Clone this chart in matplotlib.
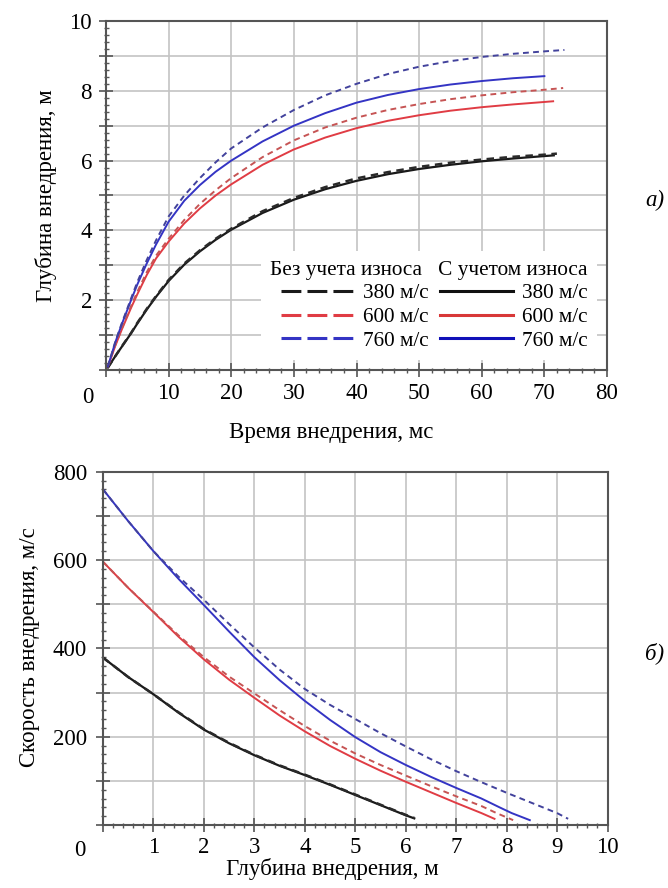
import matplotlib
matplotlib.use('Agg')
import matplotlib.pyplot as plt
from matplotlib.lines import Line2D
from matplotlib.ticker import MultipleLocator, FuncFormatter

plt.rcParams['font.family'] = ['Liberation Serif', 'DejaVu Serif']
plt.rcParams['font.size'] = 16.5

# --- (a) depth vs time ---------------------------------------------------
t_early = [0.3, 1.5, 2.5, 4, 5, 6.5, 8, 10, 12.5, 15, 17.5, 20, 25, 30, 35, 40, 45, 50, 55, 60, 65, 70]

t_380 = t_early + [71.5]
d_380_wear = [0.07, 0.4, 0.66, 1.05, 1.33, 1.73, 2.1, 2.55, 3.02, 3.4, 3.73, 4.02,
              4.5, 4.88, 5.18, 5.42, 5.61, 5.76, 5.88, 5.98, 6.06, 6.13, 6.15]
t_380_nw = t_early + [72]
d_380_nowear = [0.07, 0.4, 0.67, 1.06, 1.35, 1.75, 2.12, 2.58, 3.05, 3.43, 3.76, 4.05,
                4.55, 4.93, 5.24, 5.49, 5.67, 5.82, 5.94, 6.03, 6.11, 6.17, 6.2]

t_600 = t_early + [71.4]
d_600_wear = [0.1, 0.7, 1.15, 1.78, 2.17, 2.72, 3.2, 3.68, 4.2, 4.63, 5.0, 5.32,
              5.88, 6.32, 6.66, 6.93, 7.14, 7.3, 7.43, 7.53, 7.61, 7.68, 7.7]
t_600_nw = t_early + [73]
d_600_nowear = [0.1, 0.72, 1.18, 1.83, 2.24, 2.8, 3.28, 3.76, 4.3, 4.76, 5.15, 5.5,
                6.1, 6.58, 6.95, 7.23, 7.45, 7.62, 7.76, 7.87, 7.96, 8.03, 8.08]

t_760 = t_early
d_760_wear = [0.1, 0.8, 1.3, 2.0, 2.45, 3.05, 3.6, 4.25, 4.85, 5.3, 5.68, 6.0,
              6.55, 7.0, 7.36, 7.66, 7.88, 8.05, 8.18, 8.28, 8.36, 8.42]
t_760_nw = t_early + [73.2]
d_760_nowear = [0.1, 0.82, 1.33, 2.05, 2.52, 3.15, 3.72, 4.4, 5.0, 5.5, 5.95, 6.35,
                6.95, 7.45, 7.87, 8.2, 8.48, 8.69, 8.85, 8.97, 9.06, 9.13, 9.17]

# --- (б) velocity vs depth -----------------------------------------------
h_380 = [0, 0.5, 1, 1.5, 2, 2.5, 3, 3.5, 4, 4.5, 5, 5.5, 6, 6.17]
v_380_wear = [379, 335, 296, 254, 216, 185, 158, 134, 113, 91, 68, 45, 22, 15]
v_380_nowear = [379, 335, 296, 255, 217, 186, 159, 135, 114, 92, 69, 46, 23, 16]

h_600 = [0, 0.5, 1, 1.5, 2, 2.5, 3, 3.5, 4, 4.5, 5, 5.5, 6, 6.5, 7, 7.5, 7.76]
v_600_wear = [596, 537, 482, 426, 375, 329, 288, 248, 212, 179, 150, 123, 98, 74, 50, 27, 14]
h_600_nw = [0, 0.5, 1, 1.5, 2, 2.5, 3, 3.5, 4, 4.5, 5, 5.5, 6, 6.5, 7, 7.5, 7.8, 8.13]
v_600_nowear = [596, 537, 483, 429, 380, 336, 298, 260, 224, 191, 162, 136, 112, 88, 65, 43, 27, 11]

h_760 = [0, 0.5, 1, 1.5, 2, 2.5, 3, 3.5, 4, 4.5, 5, 5.5, 6, 6.5, 7, 7.5, 7.86, 8.1, 8.46]
v_760_wear = [760, 688, 620, 557, 498, 438, 380, 328, 281, 238, 199, 165, 136, 109, 84, 60, 40, 27, 11]
h_760_nw = [0, 0.5, 1, 1.5, 2, 2.5, 3, 3.5, 4, 4.5, 5, 5.5, 6, 6.5, 7, 7.5, 8, 8.5, 9, 9.22]
v_760_nowear = [760, 688, 620, 562, 510, 455, 402, 352, 308, 272, 240, 208, 178, 149, 122, 97, 73, 50, 27, 14]

speeds = ['380 м/с', '600 м/с', '760 м/с']

C_BLACK, C_BLACK_D = '#1a1a1a', '#2a2a2a'
C_RED, C_RED_D = '#e03c44', '#c65454'
C_BLUE, C_BLUE_D = '#3434c4', '#42429c'
DASH = (3, 2.2)
LW = 1.4

fig = plt.figure(figsize=(6.68, 8.88), dpi=100)
ax1 = fig.add_axes([106 / 668, 1 - 370 / 888, 501 / 668, 349 / 888])
ax2 = fig.add_axes([103 / 668, 1 - 825 / 888, 504.5 / 668, 353.3 / 888])


def style_axes(ax, ypad, xpad):
    ax.grid(True, which='major', color='#c4c4c4', lw=1.2, zorder=0)
    ax.set_axisbelow(True)
    for s in ax.spines.values():
        s.set_color('#555555')
        s.set_linewidth(1.5)
    ax.tick_params(which='major', direction='inout', length=10, width=1.2,
                   color='#555555', top=False, right=False)
    ax.tick_params(which='minor', direction='inout', length=3.6, width=1.0,
                   color='#555555', top=False, right=False)
    ax.tick_params(axis='y', which='major', pad=ypad)
    ax.tick_params(axis='x', which='major', pad=xpad)


# panel a
ax1.plot(t_380, d_380_wear, color=C_BLACK, lw=1.6)
ax1.plot(t_380_nw, d_380_nowear, color=C_BLACK_D, lw=1.8, dashes=DASH)
ax1.plot(t_600, d_600_wear, color=C_RED, lw=LW)
ax1.plot(t_600_nw, d_600_nowear, color=C_RED_D, lw=LW, dashes=DASH)
ax1.plot(t_760, d_760_wear, color=C_BLUE, lw=LW)
ax1.plot(t_760_nw, d_760_nowear, color=C_BLUE_D, lw=LW, dashes=DASH)

ax1.set_xlim(0, 80)
ax1.set_ylim(0, 10)
ax1.xaxis.set_major_locator(MultipleLocator(10))
ax1.xaxis.set_minor_locator(MultipleLocator(2))
ax1.yaxis.set_major_locator(MultipleLocator(1))
ax1.yaxis.set_minor_locator(MultipleLocator(0.2))
ax1.xaxis.set_major_formatter(FuncFormatter(lambda v, p: '' if v == 0 else '%d' % v))
ax1.yaxis.set_major_formatter(FuncFormatter(lambda v, p: '%d' % v if (v > 0 and round(v) % 2 == 0) else ''))
style_axes(ax1, 5, 4.5)
ax1.annotate('0', xy=(0, 0), xycoords='axes fraction', xytext=(-18, -33),
             textcoords='offset pixels', ha='center', va='baseline')

ax1.set_xlabel('Время внедрения, мс')
ax1.xaxis.set_label_coords(0.449, -0.148)
ax1.set_ylabel('Глубина внедрения, м')
ax1.yaxis.set_label_coords(-0.098, 0.5)

handles = [Line2D([], [], color=c, lw=2.2, dashes=(6.5, 2)) for c in (C_BLACK, C_RED, C_BLUE)]
handles += [Line2D([], [], color=c, lw=2.2) for c in ('#111111', '#d83838', '#1010b8')]
leg = ax1.legend(handles, speeds + speeds, ncol=2,
                 title='Без учета износа   С учетом износа',
                 loc='lower right', bbox_to_anchor=(1, 0), borderaxespad=0.45,
                 frameon=True, fancybox=False, edgecolor='none', facecolor='white',
                 framealpha=1, fontsize=15.3, title_fontsize=15.3,
                 handlelength=3.4, handletextpad=0.45, columnspacing=0.55,
                 labelspacing=0.18, borderpad=0.45, alignment='right')

fig.text(655 / 668, 1 - 200 / 888, 'а)', style='italic', ha='center', va='center')

# panel б
ax2.plot(h_380, v_380_wear, color=C_BLACK, lw=1.6)
ax2.plot(h_380, v_380_nowear, color=C_BLACK_D, lw=1.8, dashes=DASH)
ax2.plot(h_600, v_600_wear, color=C_RED, lw=LW)
ax2.plot(h_600_nw, v_600_nowear, color=C_RED_D, lw=LW, dashes=DASH)
ax2.plot(h_760, v_760_wear, color=C_BLUE, lw=LW)
ax2.plot(h_760_nw, v_760_nowear, color=C_BLUE_D, lw=LW, dashes=DASH)

ax2.set_xlim(0, 10)
ax2.set_ylim(0, 800)
ax2.xaxis.set_major_locator(MultipleLocator(1))
ax2.xaxis.set_minor_locator(MultipleLocator(0.2))
ax2.yaxis.set_major_locator(MultipleLocator(100))
ax2.yaxis.set_minor_locator(MultipleLocator(20))
ax2.xaxis.set_major_formatter(FuncFormatter(lambda v, p: '' if v == 0 else '%d' % v))
ax2.yaxis.set_major_formatter(FuncFormatter(lambda v, p: '%d' % v if (v > 0 and round(v) % 200 == 0) else ''))
style_axes(ax2, 6.5, 3.5)
ax2.annotate('0', xy=(0, 0), xycoords='axes fraction', xytext=(-23, -31),
             textcoords='offset pixels', ha='center', va='baseline')

ax2.set_xlabel('Глубина внедрения, м')
ax2.xaxis.set_label_coords(0.454, -0.094)
ax2.set_ylabel('Скорость внедрения, м/с')
ax2.yaxis.set_label_coords(-0.125, 0.504)

fig.text(655 / 668, 1 - 653 / 888, 'б)', style='italic', ha='center', va='center')

fig.savefig('out.png', dpi=100)
